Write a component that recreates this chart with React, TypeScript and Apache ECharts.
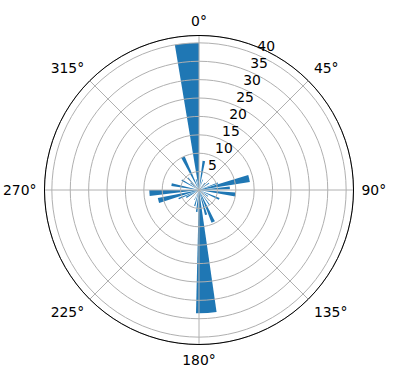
import React, { useEffect, useRef } from 'react';
import * as echarts from 'echarts';

// Bar direction (degrees clockwise from north), angular width (degrees) and length
const barAngles = [355.3, 176.6, 334, 9.5, 77, 97, 86, 114, 156, 164, 186, 255.5, 266.5, 281, 300, 20, 40, 56, 70, 125, 135, 145, 195, 205, 225, 240, 247, 310, 318, 345];
const barWidths = [9.5, 9.6, 6, 5, 8, 6, 5, 5, 6, 5, 4, 7, 7, 6, 4, 3, 4, 4, 3, 4, 3, 3, 4, 3, 4, 5, 4, 4, 3, 4];
const barRadii = [40, 33.5, 10, 8, 14, 10, 8.4, 6, 9.5, 7, 6, 11.4, 13.5, 7.6, 5.4, 3, 2.5, 3.3, 5.5, 3, 4, 5, 4.5, 3, 2.5, 4, 6, 3, 4.5, 3];

const radiusMax = 42;
const radiusStep = 5;
const angleStep = 45;

export default function App() {
  const ref = useRef<HTMLDivElement>(null);
  useEffect(() => {
    const chart = echarts.init(ref.current!, null, { renderer: 'svg' });
    const data = barAngles.map((a, i) => [barRadii[i], a, barWidths[i]]);
    const font = { color: '#000', fontSize: 13.9, fontFamily: 'DejaVu Sans' };
    chart.setOption({
      animation: false,
      polar: [
        { center: [199, 190], radius: 154.5 },
        { center: [199, 190], radius: 154.5 },
      ],
      angleAxis: [
        {
          polarIndex: 0, type: 'value', min: 0, max: 360, interval: angleStep,
          startAngle: 90, clockwise: true, z: 6,
          axisLine: { lineStyle: { color: '#000', width: 1 } },
          axisTick: { show: false },
          axisLabel: { margin: 8, ...font, formatter: (v: number) => (v >= 360 ? '' : `${v}°`) },
          splitLine: { show: true, lineStyle: { color: '#b0b0b0', width: 1 } },
        },
        {
          polarIndex: 1, type: 'value', min: 0, max: 360, startAngle: 67.5, clockwise: true,
          axisLine: { show: false }, axisTick: { show: false }, axisLabel: { show: false }, splitLine: { show: false },
        },
      ],
      radiusAxis: [
        {
          polarIndex: 0, type: 'value', min: 0, max: radiusMax, interval: radiusStep, z: 5,
          axisLine: { show: false }, axisTick: { show: false }, axisLabel: { show: false },
          splitLine: { show: true, lineStyle: { color: '#b0b0b0', width: 1 } },
        },
        {
          polarIndex: 1, type: 'value', min: 0, max: radiusMax, interval: radiusStep, z: 7,
          axisLine: { show: false }, axisTick: { show: false }, splitLine: { show: false },
          axisLabel: {
            margin: 0, align: 'left', verticalAlign: 'bottom', padding: [0, 0, 1, 2], ...font,
            formatter: (v: number) => (v > 0 && v % radiusStep === 0 ? String(v) : ''),
          },
        },
      ],
      series: [
        {
          type: 'custom', coordinateSystem: 'polar', polarIndex: 0, z: 1,
          encode: { radius: 0, angle: 1 },
          data,
          renderItem: (params: any, api: any) => {
            const cs = params.coordSys;
            const r = api.value(0), a = api.value(1), w = api.value(2);
            const p = api.coord([r, a]);
            const p1 = api.coord([r, a - w / 2]);
            const p2 = api.coord([r, a + w / 2]);
            const rr = Math.hypot(p[0] - cs.cx, p[1] - cs.cy);
            const s = Math.atan2(p1[1] - cs.cy, p1[0] - cs.cx);
            let e = Math.atan2(p2[1] - cs.cy, p2[0] - cs.cx);
            if (e < s) e += 2 * Math.PI;
            return {
              type: 'sector',
              shape: { cx: cs.cx, cy: cs.cy, r0: 0, r: rr, startAngle: s, endAngle: e, clockwise: true },
              style: { fill: '#1f77b4' },
            };
          },
        },
      ],
    });
    return () => chart.dispose();
  }, []);
  return <div ref={ref} style={{ position: 'absolute', left: 0, top: 0, width: 396, height: 380 }} />;
}
